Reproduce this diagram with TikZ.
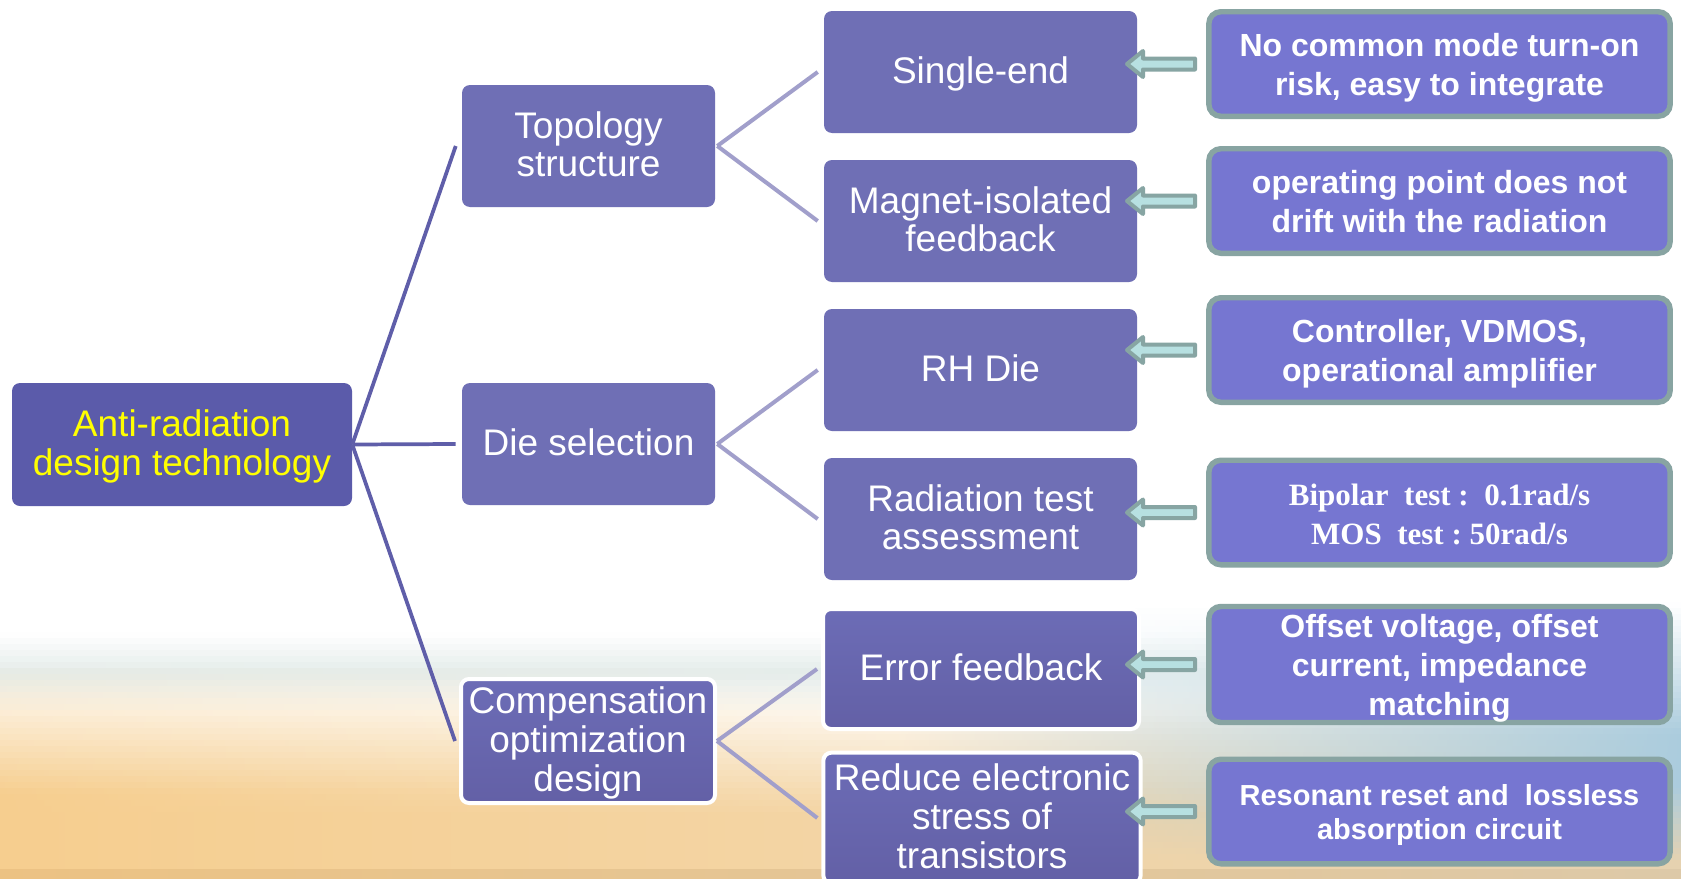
\documentclass[tikz,border=0pt]{standalone}
\usepackage{fontspec}
\setmainfont{Liberation Sans}
\newfontfamily\timesfont{Liberation Serif}

\definecolor{rootC}{HTML}{5B5BAA}
\definecolor{lvlC}{HTML}{6F6FB5}
\definecolor{lvlTop}{HTML}{6C6CB6}
\definecolor{lvlBot}{HTML}{6360A6}
\definecolor{rboxC}{HTML}{7676D1}
\definecolor{rboxBorder}{HTML}{88A4A2}
\definecolor{arrFill}{HTML}{B7E0E1}
\definecolor{arrBorder}{HTML}{87A5A3}
\definecolor{lineDark}{HTML}{5F5EA9}
\definecolor{lineLight}{HTML}{A19FCB}
\definecolor{rootText}{HTML}{FFFF00}
\definecolor{bgOrange}{HTML}{F6CE8F}
\definecolor{bgPeach}{HTML}{F3D5A6}
\definecolor{bgBlue}{HTML}{ABCCDD}
\definecolor{bgSand}{HTML}{E6D2B0}
\definecolor{bgHaze}{HTML}{E4ECEA}
\definecolor{bgStripL}{HTML}{ECC283}
\definecolor{bgStripR}{HTML}{DDC9A8}

% fixed line box (height \padh, depth \padd), set at the start of each line,
% so every line centres the same way whatever its glyphs
\newcommand\padh{23pt}
\newcommand\padd{6pt}
\newcommand\ps{\rule[-\padd]{0pt}{\dimexpr\padh+\padd\relax}}

\begin{document}
\begin{tikzpicture}[x=0.75pt, y=-0.75pt,
  pad/.style 2 args={execute at begin node={\def\padh{#1}\def\padd{#2}}},
  boxbase/.style={rounded corners=6pt, inner sep=0pt, align=center, text=white},
  lvltext/.style={font=\fontsize{27.75}{29}\selectfont, pad={23.1pt}{5.9pt}},
  rootbox/.style={boxbase, lvltext, fill=rootC, text=rootText,
    minimum width=255pt, minimum height=92.25pt},
  lvlone/.style={boxbase, lvltext, fill=lvlC,
    minimum width=189.75pt, minimum height=91.5pt},
  lvltwo/.style={boxbase, lvltext, fill=lvlC,
    minimum width=234.75pt, minimum height=91.5pt},
  ringed/.style={draw=white, line width=3pt, top color=lvlTop, bottom color=lvlBot},
  notebox/.style={boxbase, rounded corners=9pt, fill=rboxC, draw=rboxBorder, line width=4.1pt,
    minimum width=346pt, minimum height=78.4pt,
    font=\bfseries\fontsize{24}{29}\selectfont, pad={23.5pt}{5.5pt}},
  trunk/.style={draw=lineDark, line width=2.8pt},
  branch/.style={draw=lineLight, line width=3pt},
  larrow/.pic={
    \draw[fill=arrFill, draw=arrBorder, line width=3pt, line join=round]
      (0,0) -- (16,-13) -- (16,-5.5) -- (68,-5.5) -- (68,5.5) -- (16,5.5) -- (16,13) -- cycle;
  }
]
\useasboundingbox (0,0) rectangle (1681,878);
\clip (0,0) rectangle (1681,878);

% soft backdrop: white above, warm sand and sky tones rising from the bottom
\fill[white] (0,0) rectangle (1681,878);
\foreach \y in {560,566,...,866} {
  \pgfmathtruncatemacro\hz{max(0,min(100,100-abs(\y-670)*2.5))}
  \pgfmathtruncatemacro\tl{max(0,min(100,(\y-660)/1.3))}
  \pgfmathtruncatemacro\tm{max(0,min(100,(\y-680)/1.3))}
  \pgfmathtruncatemacro\tr{max(0,min(100,(\y-600)/1.3))}
  \pgfmathtruncatemacro\sr{max(0,min(100,(\y-785)/0.75))}
  \colorlet{baseL}{bgHaze!\hz!white}
  \colorlet{warmL}{bgOrange!\tl!baseL}
  \colorlet{warmM}{bgPeach!\tm!baseL}
  \colorlet{skyR}{bgBlue!\tr!white}
  \colorlet{edgeR}{bgSand!\sr!skyR}
  \fill[left color=warmL, right color=warmM] (0,\y) rectangle (900,\y+6.6);
  \fill[left color=warmM, middle color=edgeR, right color=edgeR] (899,\y) rectangle (1681,\y+6.6);
}
\fill[left color=bgStripL, right color=bgStripR] (0,869) rectangle (1681,878);

% root and first level
\node[rootbox] (root) at (182,444.5) {\ps Anti-radiation\\\ps design technology};
\node[lvlone] (topo) at (588.5,146) {\ps Topology\\\ps structure};
\node[lvlone] (die) at (588.5,444) {\ps Die selection};
\node[boxbase, lvltext, ringed, minimum width=190.5pt, minimum height=93pt]
  (comp) at (588,741) {\ps Compensation\\\ps optimization\\\ps design};

% second level
\node[lvltwo] (single) at (980.5,72) {\ps Single-end};
\node[lvltwo] (magnet) at (980.5,221) {\ps Magnet-isolated\\\ps feedback};
\node[lvltwo] (rh) at (980.5,370) {\ps RH Die};
\node[lvltwo] (rad) at (980.5,519) {\ps Radiation test\\\ps assessment};
\node[boxbase, lvltext, ringed, minimum width=237pt, minimum height=90pt]
  (err) at (981,669) {\ps Error feedback};
\node[boxbase, lvltext, ringed, minimum width=238pt, minimum height=98pt]
  (red) at (982,818) {\ps Reduce electronic\\\ps stress of\\\ps transistors};

% notes
\node[notebox] (n1) at (1439.5,64) {\ps No common mode turn-on\\\ps risk, easy to integrate};
\node[notebox] (n2) at (1439.5,201) {\ps operating point does not\\\ps drift with the radiation};
\node[notebox] (n3) at (1439.5,350) {\ps Controller, VDMOS,\\\ps operational amplifier};
\node[notebox, font=\timesfont\bfseries\fontsize{23.25}{28}\selectfont, pad={23.5pt}{4.5pt}]
  (n4) at (1439.5,512.5) {\ps Bipolar\ \ test :\ \ 0.1rad/s\\\ps MOS\ \ test :\ 50rad/s};
\node[notebox] (n5) at (1439.5,664.5)
  {\ps Offset voltage, offset\\\ps current, impedance\\\ps matching};
\node[notebox, font=\bfseries\fontsize{21.75}{25.5}\selectfont, pad={21.6pt}{3.9pt}]
  (n6) at (1439.5,811.5) {\ps Resonant reset and\ \ lossless\\\ps absorption circuit};

% connectors from the root
\draw[trunk] (root.east) -- ([xshift=-4.5pt]topo.west);
\draw[trunk] (root.east) -- ([xshift=-4.5pt]die.west);
\draw[trunk] (root.east) -- ([xshift=-3pt]comp.west);

% connectors to the second level
\draw[branch] ([xshift=1.5pt]topo.east) -- ([xshift=-4.5pt]single.west);
\draw[branch] ([xshift=1.5pt]topo.east) -- ([xshift=-4.5pt]magnet.west);
\draw[branch] ([xshift=1.5pt]die.east) -- ([xshift=-4.5pt]rh.west);
\draw[branch] ([xshift=1.5pt]die.east) -- ([xshift=-4.5pt]rad.west);
\draw[branch] (comp.east) -- ([xshift=-3pt]err.west);
\draw[branch] (comp.east) -- ([xshift=-3pt]red.west);

% block arrows from each note back to its item
\pic at (1127,64) {larrow};
\pic at (1127,201) {larrow};
\pic at (1127,350) {larrow};
\pic at (1127,512.5) {larrow};
\pic at (1127,664.5) {larrow};
\pic at (1127,811.5) {larrow};
\end{tikzpicture}
\end{document}
